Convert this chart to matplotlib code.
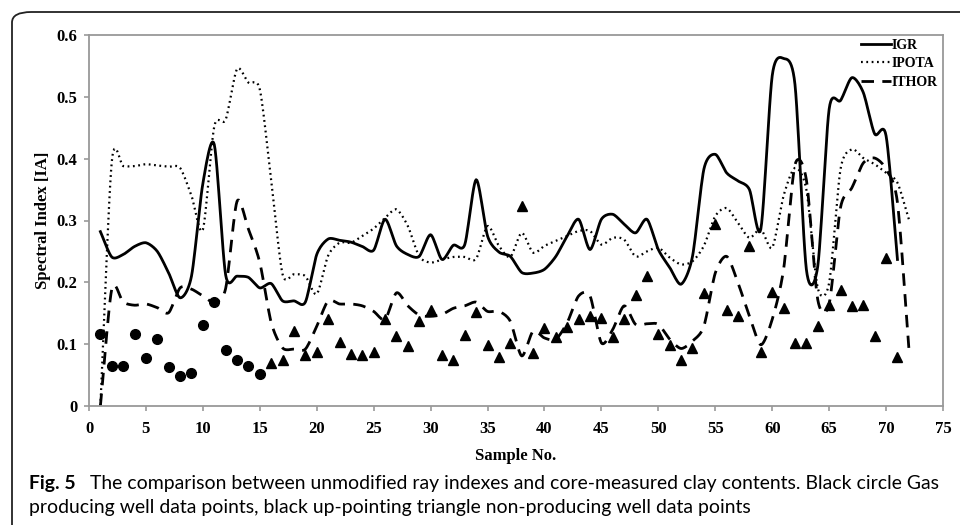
import numpy as np
import matplotlib
matplotlib.use("Agg")
import matplotlib.pyplot as plt
from matplotlib.patches import FancyBboxPatch

# valeurs (echantillons 1..72)
samples = list(range(1, 73))

igr = [0.282, 0.241, 0.245, 0.258, 0.264, 0.250, 0.215, 0.175, 0.210, 0.360,
       0.423, 0.212, 0.210, 0.208, 0.191, 0.198, 0.170, 0.170, 0.168, 0.245,
       0.270, 0.268, 0.265, 0.258, 0.252, 0.302, 0.259, 0.245, 0.242, 0.277,
       0.237, 0.260, 0.261, 0.366, 0.275, 0.249, 0.242, 0.216, 0.215, 0.221,
       0.242, 0.275, 0.302, 0.253, 0.302, 0.310, 0.294, 0.280, 0.302, 0.253,
       0.224, 0.197, 0.242, 0.383, 0.407, 0.377, 0.364, 0.350, 0.286, 0.534,
       0.562, 0.520, 0.221, 0.226, 0.480, 0.494, 0.531, 0.507, 0.440, 0.437,
       0.237]

ipota = [0.0, 0.395, 0.388, 0.388, 0.391, 0.389, 0.387, 0.385, 0.340, 0.285,
         0.452, 0.463, 0.545, 0.523, 0.512, 0.365, 0.213, 0.213, 0.210, 0.181,
         0.243, 0.264, 0.264, 0.275, 0.287, 0.304, 0.318, 0.291, 0.242, 0.232,
         0.237, 0.241, 0.241, 0.238, 0.291, 0.259, 0.241, 0.280, 0.248, 0.259,
         0.267, 0.275, 0.283, 0.283, 0.261, 0.272, 0.269, 0.242, 0.250, 0.256,
         0.240, 0.229, 0.234, 0.259, 0.307, 0.320, 0.296, 0.272, 0.286, 0.256,
         0.340, 0.385, 0.350, 0.191, 0.199, 0.383, 0.415, 0.401, 0.391, 0.377,
         0.361, 0.302]

ithor = [0.0, 0.189, 0.168, 0.163, 0.165, 0.159, 0.151, 0.191, 0.189, 0.178,
         0.168, 0.190, 0.331, 0.286, 0.232, 0.135, 0.094, 0.092, 0.092, 0.129,
         0.170, 0.165, 0.165, 0.162, 0.153, 0.140, 0.183, 0.162, 0.147, 0.145,
         0.148, 0.158, 0.162, 0.168, 0.153, 0.153, 0.137, 0.081, 0.121, 0.110,
         0.108, 0.135, 0.178, 0.178, 0.102, 0.124, 0.162, 0.132, 0.133, 0.132,
         0.108, 0.093, 0.105, 0.129, 0.215, 0.242, 0.199, 0.145, 0.099, 0.140,
         0.221, 0.390, 0.366, 0.172, 0.165, 0.321, 0.353, 0.393, 0.401, 0.383,
         0.329, 0.094]

# puits producteurs de gaz (cercles)
gas_x = list(range(1, 16))
gas_y = [0.116, 0.064, 0.064, 0.117, 0.078, 0.108, 0.063, 0.049, 0.054, 0.131,
         0.168, 0.090, 0.074, 0.064, 0.052]

# puits non producteurs (triangles)
dry_x = list(range(16, 72))
dry_y = [0.070, 0.074, 0.122, 0.083, 0.088, 0.140, 0.104, 0.084, 0.082, 0.088,
         0.140, 0.113, 0.097, 0.137, 0.156, 0.082, 0.075, 0.115, 0.152, 0.098,
         0.079, 0.102, 0.324, 0.086, 0.126, 0.112, 0.128, 0.140, 0.145, 0.143,
         0.111, 0.140, 0.179, 0.210, 0.117, 0.099, 0.075, 0.094, 0.182, 0.295,
         0.155, 0.145, 0.259, 0.088, 0.185, 0.158, 0.102, 0.102, 0.130, 0.164,
         0.188, 0.161, 0.164, 0.114, 0.240, 0.080]


# lissage type Excel (Catmull-Rom) pour le trace des courbes
def smooth(x, y, n=12, k=0.8):
    x = np.asarray(x, float)
    y = np.asarray(y, float)
    px = np.concatenate([[2 * x[0] - x[1]], x, [2 * x[-1] - x[-2]]])
    py = np.concatenate([[2 * y[0] - y[1]], y, [2 * y[-1] - y[-2]]])
    t = np.linspace(0, 1, n, endpoint=False)
    h00 = 2 * t ** 3 - 3 * t ** 2 + 1
    h10 = t ** 3 - 2 * t ** 2 + t
    h01 = -2 * t ** 3 + 3 * t ** 2
    h11 = t ** 3 - t ** 2
    xs, ys = [], []
    for i in range(1, len(px) - 2):
        for p, out in ((px, xs), (py, ys)):
            m1 = k * 0.5 * (p[i + 1] - p[i - 1])
            m2 = k * 0.5 * (p[i + 2] - p[i])
            out.extend(h00 * p[i] + h10 * m1 + h01 * p[i + 1] + h11 * m2)
    xs.append(x[-1])
    ys.append(y[-1])
    return np.array(xs), np.array(ys)


serif = ["Liberation Serif", "DejaVu Serif"]

fig = plt.figure(figsize=(9.6, 5.25), dpi=100)

# cadre arrondi autour de la figure
box = FancyBboxPatch((12 / 960, -0.2), 1.2, 1 - 12 / 525 + 0.2,
                     boxstyle="round,pad=0,rounding_size=0.02",
                     transform=fig.transFigure, fill=False,
                     edgecolor="#222222", linewidth=1.3, clip_on=False)
fig.patches.append(box)

ax = fig.add_axes([89 / 960, 119 / 525, 854 / 960, 371 / 525])

x1, y1 = smooth(samples[:len(igr)], igr)
ax.plot(x1, y1, color="black", lw=2.0, ls="-", label="IGR")
x2, y2 = smooth(samples, ipota)
ax.plot(x2, y2, color="black", lw=1.6, ls=(0, (0.8, 1.6)), label="IPOTA")
x3, y3 = smooth(samples, ithor)
ax.plot(x3, y3, color="black", lw=2.0, ls=(0, (4.5, 3)), label="ITHOR")

ax.plot(gas_x, gas_y, "o", color="black", ms=7, ls="none")
ax.plot(dry_x, dry_y, "^", color="black", ms=7, ls="none")

ax.set_xlim(0, 75)
ax.set_ylim(0, 0.6)
ax.set_xticks(range(0, 80, 5))
ax.set_yticks([0, 0.1, 0.2, 0.3, 0.4, 0.5, 0.6])
ax.set_yticklabels(["0", "0.1", "0.2", "0.3", "0.4", "0.5", "0.6"])

for s in ax.spines.values():
    s.set_color("#999999")
    s.set_linewidth(1.3)
ax.tick_params(direction="out", length=3.5, width=1.2, color="#999999",
               labelsize=12)
ax.tick_params(axis="x", pad=7)
ax.tick_params(axis="y", pad=5)
for lab in ax.get_xticklabels() + ax.get_yticklabels():
    lab.set_family(serif)
    lab.set_weight("bold")

ax.set_xlabel("Sample No.", family=serif, weight="bold", fontsize=12, labelpad=8)
ax.set_ylabel("Spectral Index [IA]", family=serif, weight="bold", fontsize=12, labelpad=4)

leg = ax.legend(loc="upper right", bbox_to_anchor=(1.0, 1.005), frameon=False,
                borderaxespad=0.0, handlelength=2.2, handletextpad=0.0,
                labelspacing=0.4,
                prop={"family": serif, "weight": "bold", "size": 10})

# legende de la figure
cap_font = ["Lato", "DejaVu Sans"]
cap_size = 14.5
fig.text(29 / 960, 1 - 483 / 525, "Fig. 5", family=cap_font, weight="bold",
         fontsize=cap_size, va="center")
line1 = fig.text(90 / 960, 1 - 483 / 525,
                 "The comparison between unmodified ray indexes and core-measured clay contents. Black circle Gas",
                 family=cap_font, fontsize=cap_size, va="center")
line2 = fig.text(29 / 960, 1 - 508 / 525,
                 "producing well data points, black up-pointing triangle non-producing well data points",
                 family=cap_font, fontsize=cap_size, va="center")

# ajuster la taille pour que la premiere ligne aille jusqu'a x=935
fig.canvas.draw()
w = line1.get_window_extent().width
new_size = cap_size * (935 - 90) / w
for t in fig.texts:
    t.set_fontsize(new_size)

fig.savefig("out.png", dpi=100)
